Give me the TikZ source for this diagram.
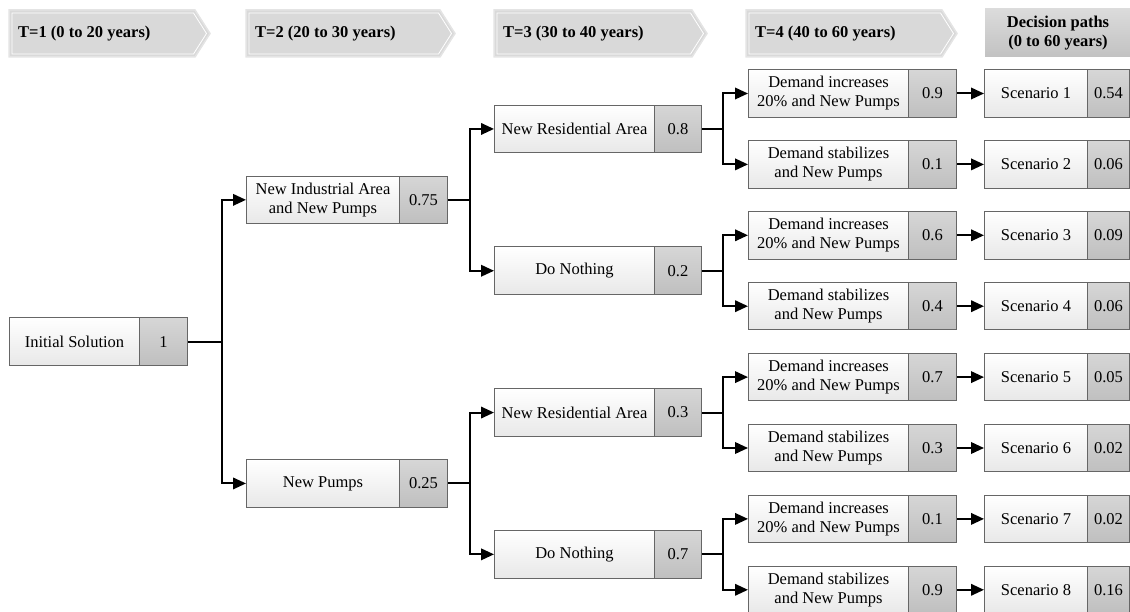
\documentclass[tikz,border=0pt]{standalone}
\usepackage{fontspec}
\setmainfont{Liberation Serif}
\usetikzlibrary{arrows.meta}

\definecolor{edgegray}{HTML}{666666}
\definecolor{hdrfill}{HTML}{D9D9D9}
\definecolor{hdredge}{HTML}{E4E4E4}

\tikzset{
  lbox/.style={draw=edgegray, line width=1pt, top color=white, bottom color=black!9,
    minimum height=47.5pt, inner sep=2pt, align=center},
  pbox/.style={draw=edgegray, line width=1pt, top color=black!16, bottom color=black!25,
    minimum height=47.5pt, inner sep=2pt, align=center},
  conn/.style={line width=2pt, black},
  arr/.style={conn, -{Triangle[length=13pt,width=11.5pt]}},
  hdrtext/.style={font=\bfseries, anchor=west, inner sep=0pt},
}

% label part + probability part of one outcome box
% #1 name, #2 left x, #3 divider x, #4 right x, #5 centre y, #6 label, #7 probability
\newcommand{\outcome}[7]{%
  \node[lbox, minimum width={#3-#2}, anchor=west] (#1) at (#2,#5) {#6};
  \node[pbox, minimum width={#4-#3}, anchor=west] (#1p) at (#3,#5) {#7};
}

% chevron header: #1 name, #2 left x, #3 tip x, #4 text
\newcommand{\chevron}[4]{%
  \fill[hdrfill, draw=hdredge, line width=1.5pt]
    (#2,10) -- ({#3-15},10) -- (#3,33.5) -- ({#3-15},57) -- (#2,57) -- cycle;
  \draw[white, line width=0.8pt]
    ({#2+3},13) -- ({#3-16.5},13) -- ({#3-3.5},33.5) -- ({#3-16.5},54) -- ({#2+3},54) -- cycle;
  \node[hdrtext] (#1) at ({#2+9},33.5) {#4};
}

\begin{document}
\begin{tikzpicture}[x=1pt, y=-1pt]
\fontsize{16.5}{19}\selectfont
\useasboundingbox (0,0) rectangle (1130,612);

% period headers
\chevron{h1}{9}{210}{T=1 (0 to 20 years)}
\chevron{h2}{246}{455}{T=2 (20 to 30 years)}
\chevron{h3}{494}{707}{T=3 (30 to 40 years)}
\chevron{h4}{746}{957}{T=4 (40 to 60 years)}
\shade[top color=black!14, bottom color=black!24] (985,9) rectangle (1132,57);
\node[font=\bfseries, align=center, inner sep=0pt] (h5) at (1058,33.5) {Decision paths\\(0 to 60 years)};

% stage 1
\outcome{r}{9}{139}{187}{341.65}{Initial Solution}{1}

% stage 2
\outcome{a}{246}{399}{447}{199.85}{New Industrial Area\\and New Pumps}{0.75}
\outcome{b}{246}{399}{447}{483.45}{New Pumps}{0.25}

% stage 3
\outcome{aa}{494}{654}{701}{128.95}{New Residential Area}{0.8}
\outcome{ab}{494}{654}{701}{270.75}{Do Nothing}{0.2}
\outcome{ba}{494}{654}{701}{412.55}{New Residential Area}{0.3}
\outcome{bb}{494}{654}{701}{554.35}{Do Nothing}{0.7}

% stage 4
\outcome{d1}{748}{908}{956}{93.5}{Demand increases\\20\% and New Pumps}{0.9}
\outcome{d2}{748}{908}{956}{164.4}{Demand stabilizes\\and New Pumps}{0.1}
\outcome{d3}{748}{908}{956}{235.3}{Demand increases\\20\% and New Pumps}{0.6}
\outcome{d4}{748}{908}{956}{306.2}{Demand stabilizes\\and New Pumps}{0.4}
\outcome{d5}{748}{908}{956}{377.1}{Demand increases\\20\% and New Pumps}{0.7}
\outcome{d6}{748}{908}{956}{448.0}{Demand stabilizes\\and New Pumps}{0.3}
\outcome{d7}{748}{908}{956}{518.9}{Demand increases\\20\% and New Pumps}{0.1}
\outcome{d8}{748}{908}{956}{589.8}{Demand stabilizes\\and New Pumps}{0.9}

% decision paths
\outcome{s1}{984}{1087}{1129}{93.5}{Scenario 1}{0.54}
\outcome{s2}{984}{1087}{1129}{164.4}{Scenario 2}{0.06}
\outcome{s3}{984}{1087}{1129}{235.3}{Scenario 3}{0.09}
\outcome{s4}{984}{1087}{1129}{306.2}{Scenario 4}{0.06}
\outcome{s5}{984}{1087}{1129}{377.1}{Scenario 5}{0.05}
\outcome{s6}{984}{1087}{1129}{448.0}{Scenario 6}{0.02}
\outcome{s7}{984}{1087}{1129}{518.9}{Scenario 7}{0.02}
\outcome{s8}{984}{1087}{1129}{589.8}{Scenario 8}{0.16}

% branch points
\coordinate (jr) at (222,341.65);
\coordinate (ja) at (470,199.85);
\coordinate (jb) at (470,483.45);
\coordinate (jaa) at (723,128.95);
\coordinate (jab) at (723,270.75);
\coordinate (jba) at (723,412.55);
\coordinate (jbb) at (723,554.35);

% tree connectors
\draw[conn] (rp.east) -- (jr);
\draw[arr] (jr) |- (a.west);
\draw[arr] (jr) |- (b.west);

\draw[conn] (ap.east) -- (ja);
\draw[arr] (ja) |- (aa.west);
\draw[arr] (ja) |- (ab.west);
\draw[conn] (bp.east) -- (jb);
\draw[arr] (jb) |- (ba.west);
\draw[arr] (jb) |- (bb.west);

\draw[conn] (aap.east) -- (jaa);
\draw[arr] (jaa) |- (d1.west);
\draw[arr] (jaa) |- (d2.west);
\draw[conn] (abp.east) -- (jab);
\draw[arr] (jab) |- (d3.west);
\draw[arr] (jab) |- (d4.west);
\draw[conn] (bap.east) -- (jba);
\draw[arr] (jba) |- (d5.west);
\draw[arr] (jba) |- (d6.west);
\draw[conn] (bbp.east) -- (jbb);
\draw[arr] (jbb) |- (d7.west);
\draw[arr] (jbb) |- (d8.west);

\foreach \k in {1,...,8} {
  \draw[arr] (d\k p.east) -- (s\k.west);
}
\end{tikzpicture}
\end{document}
